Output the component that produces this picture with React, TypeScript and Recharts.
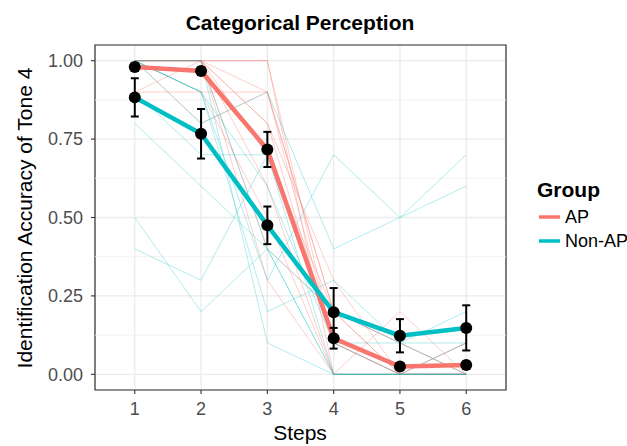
import React from 'react';
import { LineChart, Line, XAxis, YAxis, CartesianGrid, ReferenceLine, ReferenceArea, ErrorBar, Label } from 'recharts';

// Steps on the continuum
const steps = [1, 2, 3, 4, 5, 6];

// Group means and standard errors
const apMean = [0.98, 0.967, 0.717, 0.115, 0.025, 0.03];
const apErr = [0.012, 0.012, 0.056, 0.033, 0.01, 0.01];
const nonApMean = [0.883, 0.767, 0.475, 0.198, 0.123, 0.148];
const nonApErr = [0.061, 0.079, 0.06, 0.077, 0.053, 0.072];

// Individual participants
const apSubjects = [
  [1, 1, 1, 0, 0, 0],
  [1, 1, 0.9, 0.2, 0, 0],
  [1, 1, 0.8, 0.1, 0, 0],
  [0.9, 1, 0.7, 0.2, 0.1, 0],
  [1, 1, 0.6, 0, 0, 0.1],
  [0.9, 0.9, 0.9, 0.1, 0, 0],
  [1, 0.9, 0.5, 0, 0, 0],
  [1, 1, 0.4, 0.2, 0, 0.1],
  [1, 1, 1, 0.1, 0, 0],
  [1, 1, 0.3, 0, 0.2, 0],
  [1, 1, 0.8, 0.3, 0, 0],
  [1, 0.8, 0.9, 0.2, 0.1, 0],
];

const nonApSubjects = [
  [1, 1, 0.4, 0, 0, 0],
  [1, 0.9, 0.6, 0.1, 0.1, 0.2],
  [0.9, 0.7, 0.7, 0, 0, 0],
  [1, 0.9, 0.3, 0.7, 0.5, 0.7],
  [0.8, 0.6, 0.4, 0.2, 0.1, 0],
  [0.5, 0.2, 0.4, 0, 0, 0],
  [0.4, 0.3, 0.7, 0.1, 0, 0.1],
  [1, 1, 0.1, 0, 0, 0],
  [1, 0.8, 0.9, 0.4, 0.5, 0.6],
  [1, 0.9, 0.2, 0.3, 0.1, 0.1],
];

const yTicks = [0, 0.25, 0.5, 0.75, 1];
const yMinor = [0.125, 0.375, 0.625, 0.875];

const AP_COLOR = '#F8766D';
const NONAP_COLOR = '#00BFC4';
const FONT = '"Liberation Sans", Arial, Helvetica, sans-serif';

const data = steps.map((step, i) => {
  const row: any = {
    step,
    apMean: apMean[i],
    apErr: apErr[i],
    nonApMean: nonApMean[i],
    nonApErr: nonApErr[i],
  };
  apSubjects.forEach((s, j) => { row[`ap${j}`] = s[i]; });
  nonApSubjects.forEach((s, j) => { row[`non${j}`] = s[i]; });
  return row;
});

const App: React.FC = () => {
  return (
    <div style={{ position: 'absolute', left: 0, top: 0, width: 627, height: 446, background: 'white', fontFamily: FONT }}>
      <LineChart
        width={627}
        height={446}
        data={data}
        margin={{ top: 45, right: 121, left: 0, bottom: 0 }}
      >
        {/* major grid */}
        <CartesianGrid stroke="#EBEBEB" strokeWidth={1.3} />
        {/* minor horizontal grid */}
        {yMinor.map((v) => (
          <ReferenceLine key={v} y={v} stroke="#F0F0F0" strokeWidth={0.9} />
        ))}

        <XAxis
          dataKey="step"
          type="number"
          domain={[0.4, 6.6]}
          ticks={steps}
          height={56}
          axisLine={false}
          tickSize={4}
          tickMargin={8}
          tickLine={{ stroke: '#333333', strokeWidth: 1.1 }}
          tick={{ fill: '#4D4D4D', fontSize: 18, fontFamily: FONT }}
        >
          <Label
            content={() => (
              <text x={300} y={440} textAnchor="middle" fontSize={21} fill="#000" fontFamily={FONT}>Steps</text>
            )}
          />
        </XAxis>
        <YAxis
          type="number"
          domain={[-0.05, 1.05]}
          ticks={yTicks}
          width={95}
          axisLine={false}
          tickSize={4}
          tickMargin={8}
          tickLine={{ stroke: '#333333', strokeWidth: 1.1 }}
          tick={{ fill: '#4D4D4D', fontSize: 18, fontFamily: FONT }}
          tickFormatter={(v: number) => v.toFixed(2)}
        >
          <Label
            content={() => (
              <text x={32} y={218} transform="rotate(-90, 32, 218)" textAnchor="middle" fontSize={21} fill="#000" fontFamily={FONT}>
                Identification Accuracy of Tone 4
              </text>
            )}
          />
        </YAxis>

        {/* individual participant lines */}
        {apSubjects.map((_, j) => (
          <Line
            key={`ap${j}`}
            dataKey={`ap${j}`}
            stroke={AP_COLOR}
            strokeOpacity={0.35}
            strokeWidth={1}
            dot={false}
            activeDot={false}
            type="linear"
            isAnimationActive={false}
          />
        ))}
        {nonApSubjects.map((_, j) => (
          <Line
            key={`non${j}`}
            dataKey={`non${j}`}
            stroke={NONAP_COLOR}
            strokeOpacity={0.3}
            strokeWidth={1}
            dot={false}
            activeDot={false}
            type="linear"
            isAnimationActive={false}
          />
        ))}

        {/* group means */}
        <Line dataKey="apMean" stroke={AP_COLOR} strokeWidth={4.5} dot={false} activeDot={false} type="linear" isAnimationActive={false} />
        <Line dataKey="nonApMean" stroke={NONAP_COLOR} strokeWidth={4.5} dot={false} activeDot={false} type="linear" isAnimationActive={false} />

        {/* error bars and points */}
        <Line
          dataKey="apMean"
          stroke="none"
          dot={{ r: 6, fill: '#000', stroke: '#000', strokeWidth: 0 }}
          activeDot={false}
          isAnimationActive={false}
        >
          <ErrorBar dataKey="apErr" direction="y" width={4} stroke="#000" strokeWidth={2} />
        </Line>
        <Line
          dataKey="nonApMean"
          stroke="none"
          dot={{ r: 6, fill: '#000', stroke: '#000', strokeWidth: 0 }}
          activeDot={false}
          isAnimationActive={false}
        >
          <ErrorBar dataKey="nonApErr" direction="y" width={4} stroke="#000" strokeWidth={2} />
        </Line>

        {/* panel border */}
        <ReferenceArea x1={0.4} x2={6.6} y1={-0.05} y2={1.05} fill="none" stroke="#333333" strokeWidth={1.2} />
      </LineChart>

      {/* title and legend */}
      <svg width={627} height={446} style={{ position: 'absolute', left: 0, top: 0, pointerEvents: 'none' }}>
        <text x={300} y={30} textAnchor="middle" fontSize={21} fontWeight="bold" fill="#000" fontFamily={FONT}>
          Categorical Perception
        </text>
        <text x={537} y={197} fontSize={21} fontWeight="bold" fill="#000" fontFamily={FONT}>Group</text>
        <line x1={539} x2={560} y1={217} y2={217} stroke={AP_COLOR} strokeWidth={3.5} />
        <text x={565} y={223} fontSize={18} fill="#000" fontFamily={FONT}>AP</text>
        <line x1={539} x2={560} y1={241} y2={241} stroke={NONAP_COLOR} strokeWidth={3.5} />
        <text x={565} y={247} fontSize={18} fill="#000" fontFamily={FONT}>Non-AP</text>
      </svg>
    </div>
  );
};

export default App;
